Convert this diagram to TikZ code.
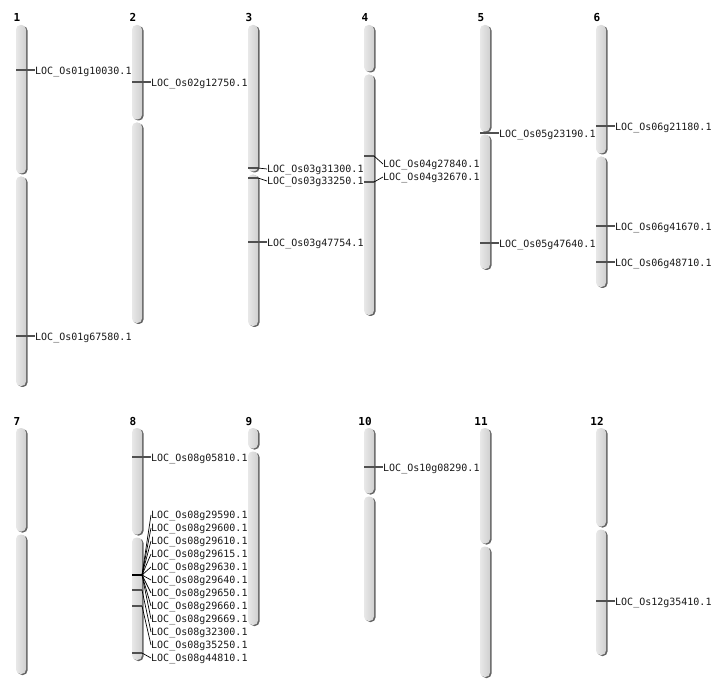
\documentclass[tikz,border=0pt]{standalone}
\usepackage{fontspec}
\setmonofont{DejaVu Sans Mono}
\usepackage{xcolor}
\usepackage{tikz}

\definecolor{chrfill}{RGB}{208,208,208}
\definecolor{chrlight}{RGB}{232,232,232}
\definecolor{chrshade}{RGB}{100,100,100}
\definecolor{tickgray}{RGB}{80,80,80}

\tikzset{
  chrnum/.style={anchor=base,inner sep=0pt,font=\ttfamily\bfseries\fontsize{11}{13}\selectfont},
  gene/.style={anchor=west,inner sep=0pt,text height=7.3pt,text depth=0pt,font=\ttfamily\fontsize{10}{12}\selectfont,text=black!90},
  tick/.style={draw=tickgray,line width=1.2pt},
  lead/.style={draw=black,line width=0.7pt},
  bundle/.style={draw=black,line width=2.4pt},
  arm/.style={left color=chrlight,right color=chrfill,rounded corners=4.5pt},
  armshade/.style={fill=chrshade,rounded corners=4.5pt}
}

\begin{document}
\begin{tikzpicture}[x=1pt,y=-1pt]
      \def\wid{10}
      \def\chrom#1#2#3#4{%
        \fill[armshade] (#1+1.5,#2+1) rectangle (#1+\wid+1.5,#3-0.5);
        \shade[arm] (#1,#2) rectangle (#1+\wid,#3-1.5);
        \fill[armshade] (#1+1.5,#3+2.5) rectangle (#1+\wid+1.5,#4+1);
        \shade[arm] (#1,#3+1.5) rectangle (#1+\wid,#4);
      }

      \useasboundingbox (0,0) rectangle (712,700);

      \chrom{16}{25}{175}{386}
      \chrom{132}{25}{121}{323}
      \chrom{248}{25}{173}{326}
      \chrom{364}{25}{73}{315}
      \chrom{480}{25}{133}{269}
      \chrom{596}{25}{155}{287}

      \chrom{16}{428}{533}{674}
      \chrom{132}{428}{536}{660}
      \chrom{248}{428}{450}{625}
      \chrom{364}{428}{495}{621}
      \chrom{480}{428}{545}{677}
      \chrom{596}{428}{528}{655}

      \node[chrnum] (n1) at (17,22) {1};
      \node[chrnum] (n2) at (133,22) {2};
      \node[chrnum] (n3) at (249,22) {3};
      \node[chrnum] (n4) at (365,22) {4};
      \node[chrnum] (n5) at (481,22) {5};
      \node[chrnum] (n6) at (597,22) {6};
      \node[chrnum] (n7) at (17,425) {7};
      \node[chrnum] (n8) at (133,425) {8};
      \node[chrnum] (n9) at (249,425) {9};
      \node[chrnum] (n10) at (365,425) {10};
      \node[chrnum] (n11) at (481,425) {11};
      \node[chrnum] (n12) at (597,425) {12};

      \coordinate (m1a) at (16,70);
      \coordinate (m1b) at (16,336);
      \node[gene] (g1a) at (35,71) {LOC\_Os01g10030.1};
      \node[gene] (g1b) at (35,337) {LOC\_Os01g67580.1};
      \draw[tick] (m1a) -- (m1a -| g1a.west);
      \draw[tick] (m1b) -- (m1b -| g1b.west);

      \coordinate (m2a) at (132,82);
      \node[gene] (g2a) at (151,83) {LOC\_Os02g12750.1};
      \draw[tick] (m2a) -- (m2a -| g2a.west);

      \coordinate (m3a) at (248,168);
      \coordinate (m3b) at (248,178);
      \coordinate (m3c) at (248,242);
      \node[gene] (g3a) at (267,169) {LOC\_Os03g31300.1};
      \node[gene] (g3b) at (267,181) {LOC\_Os03g33250.1};
      \node[gene] (g3c) at (267,243) {LOC\_Os03g47754.1};
      \draw[tick] (m3a) -- ++(10,0) coordinate (k3a);
      \draw[lead] (k3a) -- (g3a.west);
      \draw[tick] (m3b) -- ++(10,0) coordinate (k3b);
      \draw[lead] (k3b) -- (g3b.west);
      \draw[tick] (m3c) -- (m3c -| g3c.west);

      \coordinate (m4a) at (364,156);
      \coordinate (m4b) at (364,182);
      \node[gene] (g4a) at (383,164) {LOC\_Os04g27840.1};
      \node[gene] (g4b) at (383,177) {LOC\_Os04g32670.1};
      \draw[tick] (m4a) -- ++(10,0) coordinate (k4a);
      \draw[lead] (k4a) -- (g4a.west);
      \draw[tick] (m4b) -- ++(10,0) coordinate (k4b);
      \draw[lead] (k4b) -- (g4b.west);

      \coordinate (m5a) at (480,133);
      \coordinate (m5b) at (480,243);
      \node[gene] (g5a) at (499,134) {LOC\_Os05g23190.1};
      \node[gene] (g5b) at (499,244) {LOC\_Os05g47640.1};
      \draw[tick] (m5a) -- (m5a -| g5a.west);
      \draw[tick] (m5b) -- (m5b -| g5b.west);

      \coordinate (m6a) at (596,126);
      \coordinate (m6b) at (596,226);
      \coordinate (m6c) at (596,262);
      \node[gene] (g6a) at (615,127) {LOC\_Os06g21180.1};
      \node[gene] (g6b) at (615,227) {LOC\_Os06g41670.1};
      \node[gene] (g6c) at (615,263) {LOC\_Os06g48710.1};
      \draw[tick] (m6a) -- (m6a -| g6a.west);
      \draw[tick] (m6b) -- (m6b -| g6b.west);
      \draw[tick] (m6c) -- (m6c -| g6c.west);

      \coordinate (m8a) at (132,457);
      \coordinate (m8b) at (132,575);
      \coordinate (m8c) at (132,590);
      \coordinate (m8d) at (132,606);
      \coordinate (m8e) at (132,653);
      \node[gene] (g8a) at (151,458) {LOC\_Os08g05810.1};
      \node[gene] (g8b1) at (151,515) {LOC\_Os08g29590.1};
      \node[gene] (g8b2) at (151,528) {LOC\_Os08g29600.1};
      \node[gene] (g8b3) at (151,541) {LOC\_Os08g29610.1};
      \node[gene] (g8b4) at (151,554) {LOC\_Os08g29615.1};
      \node[gene] (g8b5) at (151,567) {LOC\_Os08g29630.1};
      \node[gene] (g8b6) at (151,580) {LOC\_Os08g29640.1};
      \node[gene] (g8b7) at (151,593) {LOC\_Os08g29650.1};
      \node[gene] (g8b8) at (151,606) {LOC\_Os08g29660.1};
      \node[gene] (g8b9) at (151,619) {LOC\_Os08g29669.1};
      \node[gene] (g8c) at (151,632) {LOC\_Os08g32300.1};
      \node[gene] (g8d) at (151,645) {LOC\_Os08g35250.1};
      \node[gene] (g8e) at (151,658) {LOC\_Os08g44810.1};
      \draw[tick] (m8a) -- (m8a -| g8a.west);
      \draw[bundle] (m8b) -- ++(10,0) coordinate (k8b);
      \draw[lead] (k8b) -- (g8b1.west);
      \draw[lead] (k8b) -- (g8b2.west);
      \draw[lead] (k8b) -- (g8b3.west);
      \draw[lead] (k8b) -- (g8b4.west);
      \draw[lead] (k8b) -- (g8b5.west);
      \draw[lead] (k8b) -- (g8b6.west);
      \draw[lead] (k8b) -- (g8b7.west);
      \draw[lead] (k8b) -- (g8b8.west);
      \draw[lead] (k8b) -- (g8b9.west);
      \draw[tick] (m8c) -- ++(10,0) coordinate (k8c);
      \draw[lead] (k8c) -- (g8c.west);
      \draw[tick] (m8d) -- ++(10,0) coordinate (k8d);
      \draw[lead] (k8d) -- (g8d.west);
      \draw[tick] (m8e) -- ++(10,0) coordinate (k8e);
      \draw[lead] (k8e) -- (g8e.west);

      \coordinate (m10a) at (364,467);
      \node[gene] (g10a) at (383,468) {LOC\_Os10g08290.1};
      \draw[tick] (m10a) -- (m10a -| g10a.west);

      \coordinate (m12a) at (596,601);
      \node[gene] (g12a) at (615,602) {LOC\_Os12g35410.1};
      \draw[tick] (m12a) -- (m12a -| g12a.west);
\end{tikzpicture}
\end{document}
